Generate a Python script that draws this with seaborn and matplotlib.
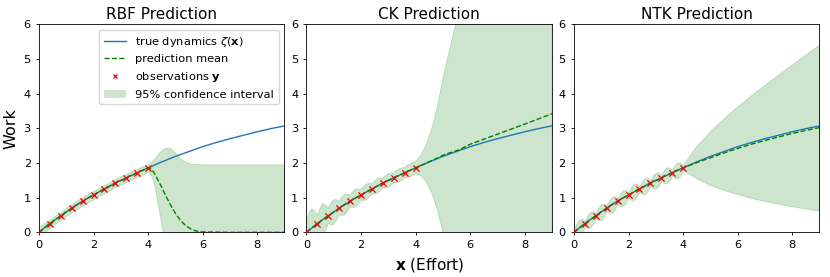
import numpy as np
import matplotlib
matplotlib.use("Agg")
import matplotlib.pyplot as plt
import seaborn as sns
from matplotlib.patches import Patch
from matplotlib.lines import Line2D

# observations y
x_obs = [0.0, 0.4, 0.8, 1.2, 1.6, 2.0, 2.4, 2.8, 3.2, 3.6, 4.0]
y_obs = [0.00, 0.25, 0.48, 0.70, 0.90, 1.08, 1.25, 1.42, 1.57, 1.72, 1.86]

# fitted region (all means follow the true curve here)
x_fit = [0.0, 0.1, 0.2, 0.3, 0.4, 0.5, 0.6, 0.7, 0.8, 0.9,
         1.0, 1.1, 1.2, 1.3, 1.4, 1.5, 1.6, 1.7, 1.8, 1.9,
         2.0, 2.1, 2.2, 2.3, 2.4, 2.5, 2.6, 2.7, 2.8, 2.9,
         3.0, 3.1, 3.2, 3.3, 3.4, 3.5, 3.6, 3.7, 3.8, 3.9, 4.0]
y_fit = [0.00, 0.065, 0.13, 0.19, 0.25, 0.31, 0.37, 0.42, 0.48, 0.53,
         0.59, 0.64, 0.70, 0.75, 0.80, 0.85, 0.90, 0.945, 0.99, 1.035,
         1.08, 1.12, 1.165, 1.21, 1.25, 1.29, 1.335, 1.38, 1.42, 1.46,
         1.495, 1.53, 1.57, 1.61, 1.645, 1.68, 1.72, 1.755, 1.79, 1.825, 1.86]

# true dynamics beyond the data
x_true_tail = [4.5, 5.0, 5.5, 6.0, 6.5, 7.0, 7.5, 8.0, 8.5, 9.0]
y_true_tail = [2.03, 2.19, 2.33, 2.47, 2.59, 2.70, 2.80, 2.90, 2.99, 3.07]

# half widths of the 95% band over the fitted region
rbf_hw = [0.16, 0.15, 0.14, 0.13, 0.12, 0.12, 0.12, 0.12, 0.12, 0.12,
          0.12, 0.12, 0.12, 0.12, 0.12, 0.12, 0.12, 0.12, 0.12, 0.12,
          0.12, 0.12, 0.12, 0.12, 0.12, 0.12, 0.12, 0.12, 0.12, 0.12,
          0.12, 0.12, 0.12, 0.12, 0.12, 0.12, 0.12, 0.12, 0.12, 0.12, 0.11]
ck_hw = [0.35, 0.50, 0.55, 0.42, 0.25, 0.40, 0.46, 0.36, 0.22, 0.32,
         0.36, 0.29, 0.19, 0.27, 0.30, 0.25, 0.17, 0.23, 0.26, 0.22,
         0.15, 0.21, 0.23, 0.20, 0.14, 0.19, 0.21, 0.19, 0.14, 0.18,
         0.20, 0.18, 0.14, 0.18, 0.19, 0.18, 0.15, 0.18, 0.19, 0.19, 0.18]
ntk_hw = [0.09, 0.20, 0.24, 0.20, 0.08, 0.19, 0.23, 0.19, 0.08, 0.19,
          0.23, 0.19, 0.08, 0.19, 0.23, 0.19, 0.08, 0.19, 0.23, 0.19,
          0.08, 0.19, 0.23, 0.19, 0.08, 0.19, 0.23, 0.19, 0.08, 0.19,
          0.23, 0.19, 0.08, 0.19, 0.23, 0.19, 0.08, 0.19, 0.23, 0.19, 0.08]

# RBF extrapolation
rbf_x_tail = [4.1, 4.2, 4.3, 4.4, 4.5, 4.6, 4.7, 4.8, 4.9, 5.0,
              5.2, 5.4, 5.6, 5.8, 6.0, 7.0, 8.0, 9.0]
rbf_mean_tail = [1.83, 1.74, 1.60, 1.45, 1.30, 1.13, 0.97, 0.82, 0.68, 0.55,
                 0.33, 0.18, 0.08, 0.03, 0.01, 0.0, 0.0, 0.0]
rbf_hi_tail = [2.02, 2.10, 2.20, 2.30, 2.38, 2.43, 2.45, 2.43, 2.37, 2.28,
               2.12, 2.02, 1.98, 1.97, 1.96, 1.96, 1.96, 1.96]
rbf_lo_tail = [1.66, 1.45, 1.05, 0.60, 0.15, -0.30, -0.70, -1.00, -1.30, -1.50,
               -1.75, -1.88, -1.94, -1.96, -1.96, -1.96, -1.96, -1.96]

# CK extrapolation
ck_x_tail = [4.2, 4.4, 4.6, 4.8, 5.0, 5.2, 5.4, 5.6, 6.0, 7.0, 8.0, 9.0]
ck_mean_tail = [1.93, 2.00, 2.07, 2.14, 2.22, 2.28, 2.33, 2.38, 2.54, 2.83, 3.12, 3.42]
ck_hi_tail = [2.23, 2.55, 3.02, 3.64, 4.42, 5.13, 5.78, 6.38, 7.54, 10.33, 13.12, 15.92]
ck_lo_tail = [1.63, 1.45, 1.12, 0.64, 0.02, -0.57, -1.12, -1.62, -2.46, -4.67, -6.88, -9.08]

# NTK extrapolation
ntk_x_tail = [4.2, 4.5, 5.0, 5.5, 6.0, 6.5, 7.0, 7.5, 8.0, 8.5, 9.0]
ntk_mean_tail = [1.92, 2.01, 2.15, 2.29, 2.42, 2.54, 2.65, 2.75, 2.85, 2.94, 3.02]
ntk_hi_tail = [2.18, 2.50, 2.93, 3.30, 3.64, 3.96, 4.26, 4.56, 4.85, 5.14, 5.42]
ntk_lo_tail = [1.70, 1.55, 1.36, 1.22, 1.10, 0.99, 0.90, 0.82, 0.75, 0.68, 0.62]

titles = ["RBF Prediction", "CK Prediction", "NTK Prediction"]

plt.rcParams.update({
    "font.size": 8,
    "xtick.labelsize": 8.2,
    "ytick.labelsize": 8.2,
    "axes.linewidth": 0.6,
    "xtick.major.size": 2.4,
    "ytick.major.size": 2.4,
    "xtick.major.width": 0.6,
    "ytick.major.width": 0.6,
})

x_true = np.array(x_fit + x_true_tail)
y_true = np.array(y_fit + y_true_tail)

panels = [
    (rbf_hw, rbf_x_tail, rbf_mean_tail, rbf_lo_tail, rbf_hi_tail),
    (ck_hw, ck_x_tail, ck_mean_tail, ck_lo_tail, ck_hi_tail),
    (ntk_hw, ntk_x_tail, ntk_mean_tail, ntk_lo_tail, ntk_hi_tail),
]

fig, axes = plt.subplots(1, 3, figsize=(8.3, 2.77), dpi=100)
fig.subplots_adjust(left=0.047, right=0.9873, top=0.9123, bottom=0.1614, wspace=0.0896)

for ax, title, (hw, xt, mt, lt, ht) in zip(axes, titles, panels):
    fit = np.array(y_fit)
    hw = np.array(hw)
    xs = np.array(x_fit + xt)
    mean = np.concatenate([fit, mt])
    lo = np.concatenate([fit - hw, lt])
    hi = np.concatenate([fit + hw, ht])

    sns.lineplot(x=x_true, y=y_true, ax=ax, color="#1f77b4", lw=1.0,
                 estimator=None, legend=False)
    sns.lineplot(x=xs, y=mean, ax=ax, color="green", lw=1.0,
                 linestyle="--", estimator=None, legend=False)
    sns.scatterplot(x=x_obs, y=y_obs, ax=ax, color="red", marker="x",
                    s=20, linewidth=0.9, zorder=3, legend=False)
    ax.fill_between(xs, lo, hi, color="green", alpha=0.2, lw=0.6)

    ax.set_xlim(0, 9)
    ax.set_ylim(0, 6)
    ax.set_xticks([0, 2, 4, 6, 8])
    ax.set_yticks([0, 1, 2, 3, 4, 5, 6])
    ax.set_title(title, fontsize=11, pad=3.5)
    ax.set_xlabel("")
    ax.set_ylabel("")

axes[0].set_ylabel("Work", fontsize=11.5)
axes[1].set_xlabel(r"$\mathbf{x}$ (Effort)", fontsize=11)

handles = [
    Line2D([], [], color="#1f77b4", lw=1.0),
    Line2D([], [], color="green", lw=1.0, linestyle="--"),
    Line2D([], [], color="red", marker="x", lw=0, markersize=3.5, markeredgewidth=0.9),
    Patch(facecolor="green", alpha=0.2),
]
labels = [r"true dynamics $\zeta(\mathbf{x})$", "prediction mean",
          r"observations $\mathbf{y}$", "95% confidence interval"]
axes[0].legend(handles, labels, loc="upper right", fontsize=8.2)

fig.savefig("out.png", dpi=100)
